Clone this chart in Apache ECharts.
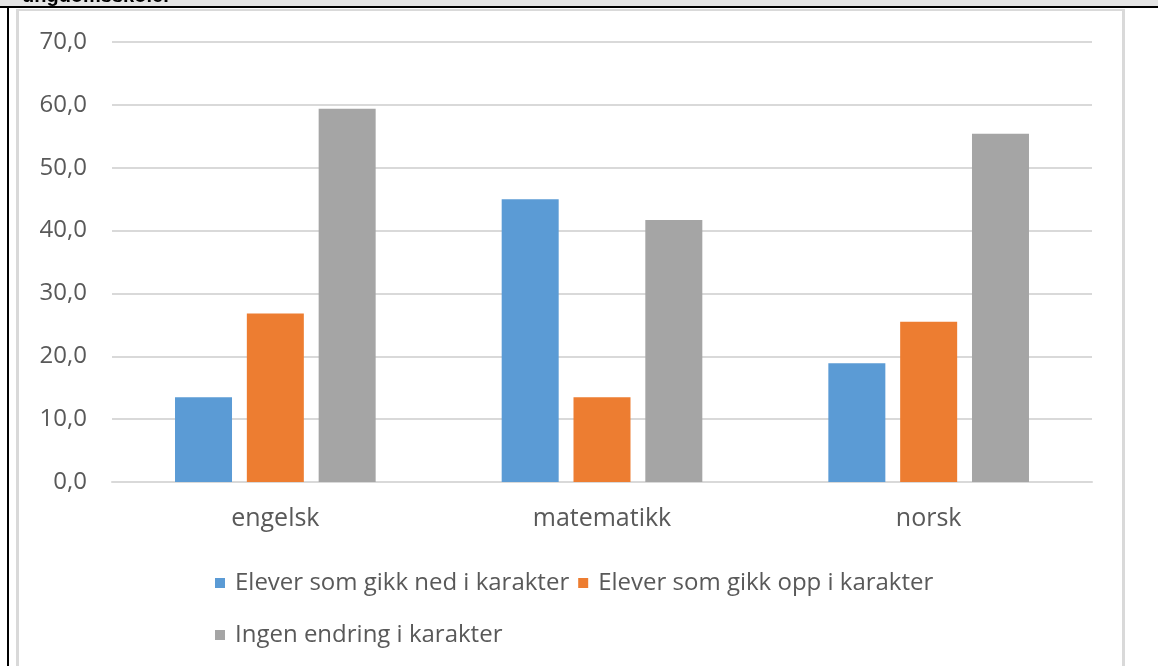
<!DOCTYPE html>
<html>
<head>
<meta charset="utf-8">
<script src="https://cdn.jsdelivr.net/npm/echarts@6/dist/echarts.min.js"></script>
<style>
  html, body { margin: 0; padding: 0; background: #fff; }
  #chart { width: 1158px; height: 666px; }
</style>
</head>
<body>
<div id="chart"></div>
<script>
const categories = ['engelsk', 'matematikk', 'norsk'];
const seriesNames = [
  'Elever som gikk ned i karakter',
  'Elever som gikk opp i karakter',
  'Ingen endring i karakter',
];
const nedValues = [13.5, 45.0, 18.9];
const oppValues = [26.8, 13.5, 25.5];
const ingenValues = [59.4, 41.7, 55.4];
const colors = ['#5B9BD5', '#ED7D31', '#A5A5A5'];

const font = '"Open Sans", sans-serif';
const chart = echarts.init(document.getElementById('chart'));

const mkSeries = (name, data, i) => ({
  name,
  type: 'bar',
  data,
  barWidth: 57,
  barGap: '26%',
  itemStyle: { color: colors[i] },
  emphasis: { disabled: true },
});

const legendText = { fontFamily: font, fontSize: 24, color: '#595959', padding: [0, 0, 0, 5] };

chart.setOption({
  animation: false,
  backgroundColor: '#fff',
  grid: { left: 112, right: 66, top: 42, bottom: 184 },
  graphic: [
    // remains of the page around the chart
    { type: 'rect', shape: { x: 0, y: 0, width: 1158, height: 6 }, style: { fill: '#e4e4e4' } },
    {
      type: 'text', left: 22, top: -14,
      style: { text: 'ungdomsskole.', font: 'bold 20px "Liberation Sans", Arial, sans-serif', fill: '#000' },
    },
    { type: 'rect', shape: { x: 0, y: 6, width: 1158, height: 2 }, style: { fill: '#000' } },
    { type: 'rect', shape: { x: 7, y: 6, width: 2, height: 660 }, style: { fill: '#000' } },
    { type: 'rect', shape: { x: 16, y: 9, width: 1109, height: 2 }, style: { fill: '#d9d9d9' } },
    { type: 'rect', shape: { x: 16, y: 9, width: 3, height: 657 }, style: { fill: '#d9d9d9' } },
    { type: 'rect', shape: { x: 1122, y: 9, width: 3, height: 657 }, style: { fill: '#d9d9d9' } },
  ],
  legend: [
    {
      data: seriesNames.slice(0, 2),
      left: 210, top: 566,
      itemWidth: 10, itemHeight: 10, itemGap: 9,
      icon: 'rect',
      textStyle: legendText,
    },
    {
      data: seriesNames.slice(2),
      left: 210, top: 618,
      itemWidth: 10, itemHeight: 10,
      icon: 'rect',
      textStyle: legendText,
    },
  ],
  xAxis: {
    type: 'category',
    data: categories,
    axisLine: { lineStyle: { color: '#d9d9d9', width: 2 } },
    axisTick: { show: false },
    axisLabel: { fontFamily: font, fontSize: 25, color: '#595959', margin: 24 },
  },
  yAxis: {
    type: 'value',
    min: 0,
    max: 70,
    interval: 10,
    axisLine: { show: false },
    axisTick: { show: false },
    splitLine: { lineStyle: { color: '#d9d9d9', width: 2 } },
    axisLabel: {
      fontFamily: font, fontSize: 24, color: '#595959', margin: 25,
      formatter: (v) => v.toFixed(1).replace('.', ','),
    },
  },
  series: [
    mkSeries(seriesNames[0], nedValues, 0),
    mkSeries(seriesNames[1], oppValues, 1),
    mkSeries(seriesNames[2], ingenValues, 2),
  ],
});
</script>
</body>
</html>
